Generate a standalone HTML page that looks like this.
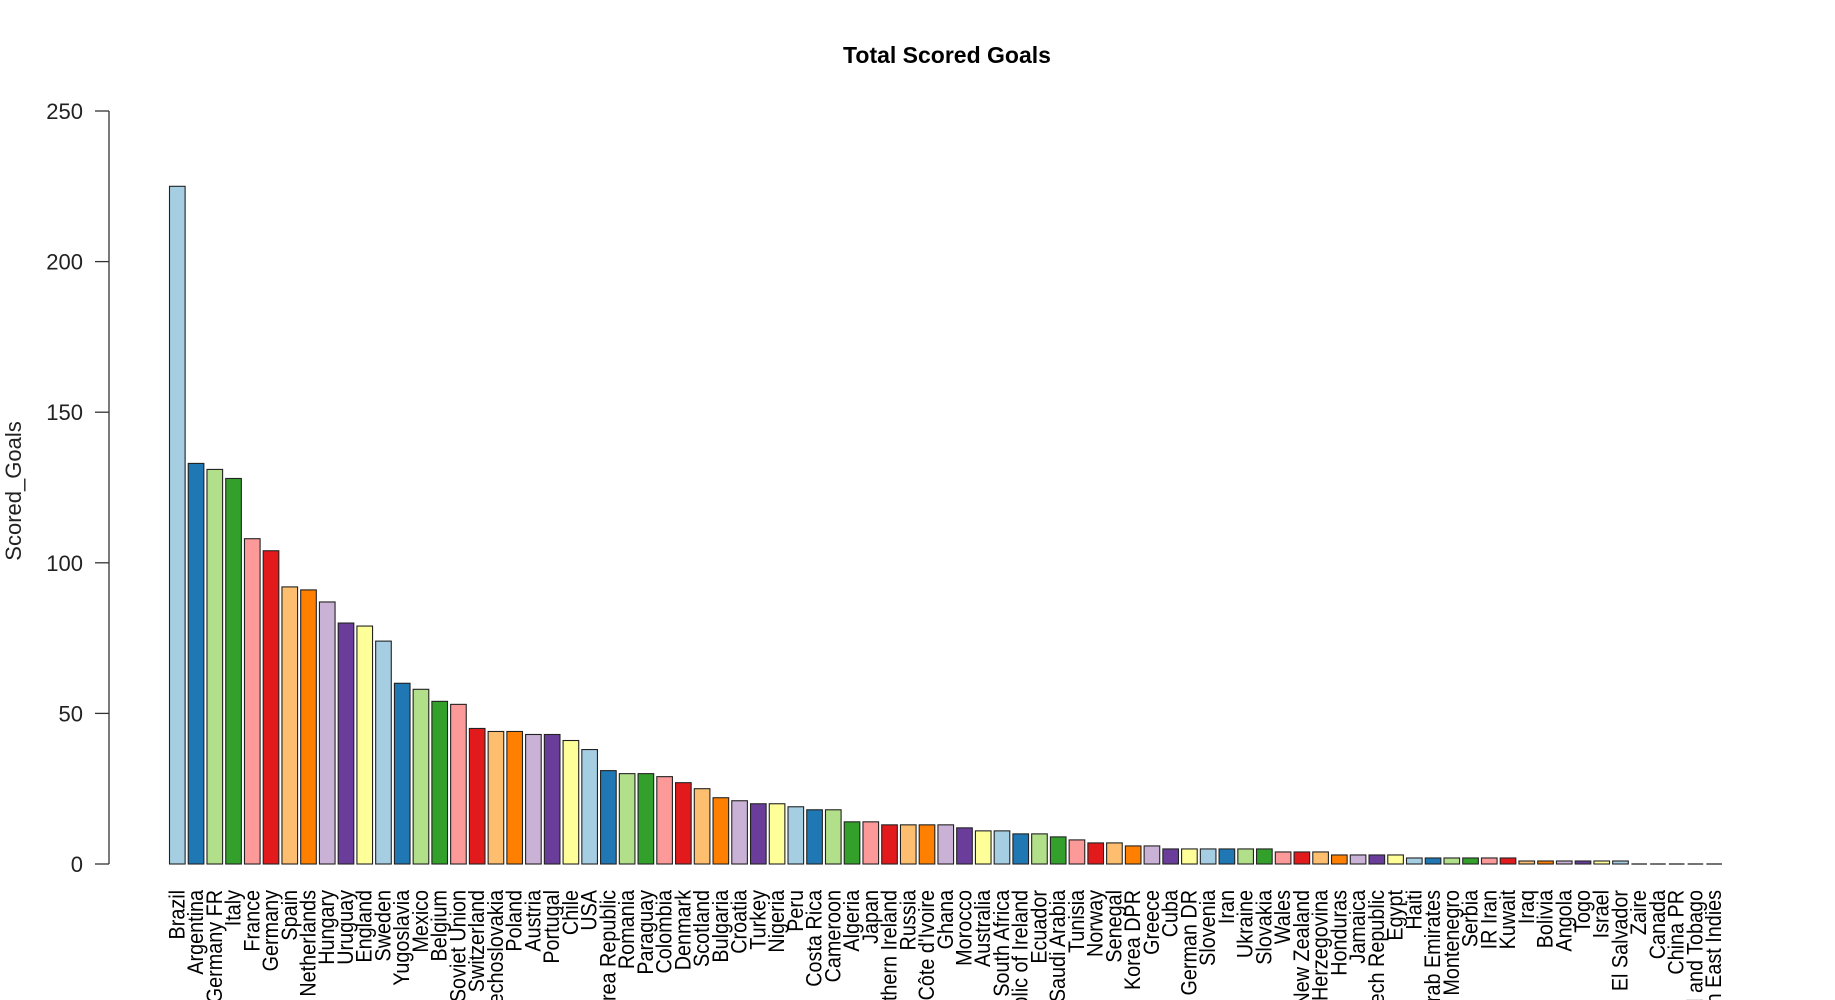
<!DOCTYPE html>
<html><head><meta charset="utf-8"><style>
html,body{margin:0;padding:0;background:#fff;overflow:hidden}
svg{display:block;font-family:"Liberation Sans",sans-serif}
</style></head><body>
<svg id="chart" width="1835" height="1000">
<text x="947" y="63" text-anchor="middle" font-weight="bold" font-size="23" fill="#000">Total Scored Goals</text>
<text transform="translate(21,491) rotate(-90)" text-anchor="middle" font-size="22" fill="#222">Scored_Goals</text>
<g id="yaxis"></g>
<g id="bars"></g>
<g id="xlabels"></g>
</svg>
<script>
const categories = ["Brazil","Argentina","Germany FR","Italy","France","Germany","Spain","Netherlands","Hungary","Uruguay","England","Sweden","Yugoslavia","Mexico","Belgium","Soviet Union","Switzerland","Czechoslovakia","Poland","Austria","Portugal","Chile","USA","Korea Republic","Romania","Paraguay","Colombia","Denmark","Scotland","Bulgaria","Croatia","Turkey","Nigeria","Peru","Costa Rica","Cameroon","Algeria","Japan","Northern Ireland","Russia","Côte d'Ivoire","Ghana","Morocco","Australia","South Africa","Republic of Ireland","Ecuador","Saudi Arabia","Tunisia","Norway","Senegal","Korea DPR","Greece","Cuba","German DR","Slovenia","Iran","Ukraine","Slovakia","Wales","New Zealand","Bosnia and Herzegovina","Honduras","Jamaica","Czech Republic","Egypt","Haiti","United Arab Emirates","Serbia and Montenegro","Serbia","IR Iran","Kuwait","Iraq","Bolivia","Angola","Togo","Israel","El Salvador","Zaire","Canada","China PR","Trinidad and Tobago","Dutch East Indies"];
const goals = [225,133,131,128,108,104,92,91,87,80,79,74,60,58,54,53,45,44,44,43,43,41,38,31,30,30,29,27,25,22,21,20,20,19,18,18,14,14,13,13,13,13,12,11,11,10,10,9,8,7,7,6,6,5,5,5,5,5,5,4,4,4,3,3,3,3,2,2,2,2,2,2,1,1,1,1,1,1,0,0,0,0,0];
const yTicks = [0,50,100,150,200,250];
const palette = ["#A6CEE3","#1F78B4","#B2DF8A","#33A02C","#FB9A99","#E31A1C","#FDBF6F","#FF7F00","#CAB2D6","#6A3D9A","#FFFF99"];

const NS="http://www.w3.org/2000/svg";
const y0=864, yTop=111, yMaxVal=250;
const yScale=v=>y0-(v/yMaxVal)*(y0-yTop);
const xStart=169.5, xEnd=1722;
const pitch=(xEnd-xStart)/(categories.length-0.2/1.2);
const bw=pitch/1.2;
const xScale=i=>xStart+i*pitch;

const yaxis=document.getElementById('yaxis');
const axl=document.createElementNS(NS,'line');
axl.setAttribute('x1',109);axl.setAttribute('x2',109);axl.setAttribute('y1',yScale(yTicks[0]));axl.setAttribute('y2',yScale(yTicks[yTicks.length-1]));
axl.setAttribute('stroke','#333');axl.setAttribute('stroke-width','1.3');


yaxis.appendChild(axl);
yTicks.forEach(t=>{
  const l=document.createElementNS(NS,'line');
  l.setAttribute('x1',95);l.setAttribute('x2',109);l.setAttribute('y1',yScale(t));l.setAttribute('y2',yScale(t));
  l.setAttribute('stroke','#333');l.setAttribute('stroke-width','1.3');
  
  
  yaxis.appendChild(l);
  const tx=document.createElementNS(NS,'text');
  tx.setAttribute('x',83);tx.setAttribute('y',yScale(t)+8);tx.setAttribute('text-anchor','end');tx.setAttribute('font-size','22');tx.setAttribute('fill','#222');
  tx.textContent=t;
  
  
  yaxis.appendChild(tx);
});
const bars=document.getElementById('bars');
const xl=document.getElementById('xlabels');
categories.forEach((c,i)=>{
  const x=xScale(i), top=yScale(goals[i]);
  const h=y0-top;
  if(h>0.5){
    const r=document.createElementNS(NS,'rect');
    r.setAttribute('x',x);r.setAttribute('y',top);r.setAttribute('width',bw);r.setAttribute('height',h);
    r.setAttribute('fill',palette[i%palette.length]);r.setAttribute('stroke','#222');r.setAttribute('stroke-width','1.1');
    
    
    bars.appendChild(r);
  } else {
    const r=document.createElementNS(NS,'line');
    r.setAttribute('x1',x);r.setAttribute('x2',x+bw);r.setAttribute('y1',y0);r.setAttribute('y2',y0);
    r.setAttribute('stroke','#444');r.setAttribute('stroke-width','1.5');
    
    
    bars.appendChild(r);
  }
  const t=document.createElementNS(NS,'text');
  const cx=x+bw/2+7;
  t.setAttribute('transform','translate('+cx+',890) rotate(-90) scale(0.9,1)');
  t.setAttribute('text-anchor','end');t.setAttribute('font-size','22');t.setAttribute('fill','#000');
  t.textContent=c;
  
  
  xl.appendChild(t);
});
</script>
</body></html>
